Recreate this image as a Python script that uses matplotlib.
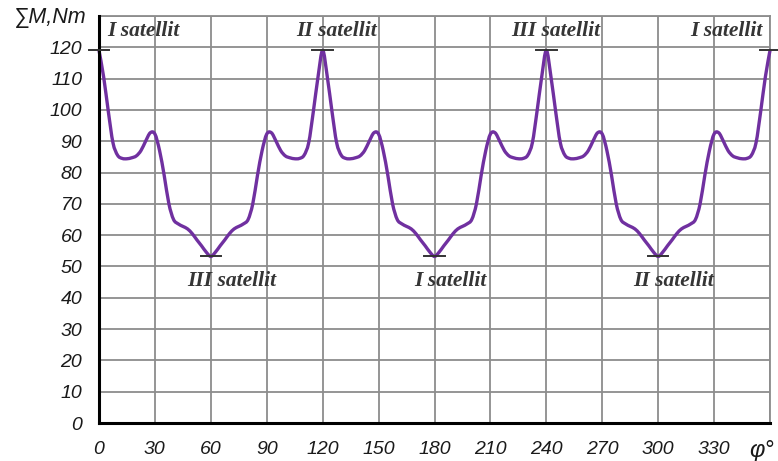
import matplotlib
matplotlib.use("Agg")
import matplotlib.pyplot as plt
from matplotlib.path import Path
from matplotlib.patches import PathPatch
import numpy as np

# ---- data ----
angle_step = 2.5
torque = [
    119, 110.5, 99.5, 89.5, 85.5, 84.5, 84.4, 84.7, 85.3, 87, 90, 92.7, 92.3,
    87, 79, 70, 65, 63.6, 62.8, 62, 60.5, 58.5, 56.6, 54.6, 53.2,
    54.6, 56.6, 58.5, 60.5, 62, 62.8, 63.6, 65, 70, 79, 87,
    92.3, 92.7, 90, 87, 85.3, 84.7, 84.4, 84.5, 85.5, 89.5, 99.5, 110.5,
    119, 110.5, 99.5, 89.5, 85.5, 84.5, 84.4, 84.7, 85.3, 87, 90, 92.7, 92.3,
    87, 79, 70, 65, 63.6, 62.8, 62, 60.5, 58.5, 56.6, 54.6, 53.2,
    54.6, 56.6, 58.5, 60.5, 62, 62.8, 63.6, 65, 70, 79, 87,
    92.3, 92.7, 90, 87, 85.3, 84.7, 84.4, 84.5, 85.5, 89.5, 99.5, 110.5,
    119, 110.5, 99.5, 89.5, 85.5, 84.5, 84.4, 84.7, 85.3, 87, 90, 92.7, 92.3,
    87, 79, 70, 65, 63.6, 62.8, 62, 60.5, 58.5, 56.6, 54.6, 53.2,
    54.6, 56.6, 58.5, 60.5, 62, 62.8, 63.6, 65, 70, 79, 87,
    92.3, 92.7, 90, 87, 85.3, 84.7, 84.4, 84.5, 85.5, 89.5, 99.5, 110.5,
    119,
]
angles = np.arange(len(torque)) * angle_step

max_angles = [0, 120, 240, 360]
max_values = [119, 119, 119, 119]
min_angles = [60, 180, 300]
min_values = [53.2, 53.2, 53.2]

top_labels = ["I satellit", "II satellit", "III satellit", "I satellit"]
bottom_labels = ["III satellit", "I satellit", "II satellit"]

x_ticks = list(range(0, 331, 30))
y_ticks = list(range(0, 121, 10))


def smooth_path(xs, ys, tension=1 / 6):
    """Smoothed line through the points (like a spreadsheet 'smoothed line')."""
    pts = np.column_stack([xs, ys]).astype(float)
    n = len(pts)
    verts = [pts[0]]
    codes = [Path.MOVETO]
    for i in range(n - 1):
        p0 = pts[i - 1] if i > 0 else pts[i]
        p1 = pts[i]
        p2 = pts[i + 1]
        p3 = pts[i + 2] if i + 2 < n else pts[i + 1]
        c1 = p1 + (p2 - p0) * tension
        c2 = p2 - (p3 - p1) * tension
        verts += [c1, c2, p2]
        codes += [Path.CURVE4] * 3
    return Path(verts, codes)


# ---- figure ----
fig = plt.figure(figsize=(7.78, 4.61), dpi=100)
ax = fig.add_axes([99 / 778, 1 - 423 / 461, (770 - 99) / 778, (423 - 16) / 461])

ax.set_xlim(0, 360)
ax.set_ylim(0, 130)

grid_color = "#8c8c8c"
ax.set_xticks(x_ticks + [360])
ax.set_yticks(y_ticks + [130])
ax.grid(True, color=grid_color, linewidth=1.3, zorder=1)
ax.tick_params(length=0)

for side in ["top", "right"]:
    ax.spines[side].set_color(grid_color)
    ax.spines[side].set_linewidth(1.3)
for side in ["left", "bottom"]:
    ax.spines[side].set_color("black")
    ax.spines[side].set_linewidth(2.2)
    ax.spines[side].set_zorder(5)

tick_font = dict(family="Liberation Sans", style="italic", size=14, color="#1a1a1a")
ax.set_xticklabels([str(v) for v in x_ticks] + [""], **tick_font)
ax.set_yticklabels([str(v) for v in y_ticks] + [""], **tick_font)
ax.tick_params(axis="x", pad=13)
ax.tick_params(axis="y", pad=12)

curve = PathPatch(smooth_path(angles, torque), facecolor="none",
                  edgecolor="#7030a0", linewidth=2.4, zorder=4,
                  joinstyle="round", capstyle="round", clip_on=False)
ax.add_patch(curve)

# short horizontal markers at maxima and minima
for xv, yv in zip(max_angles + min_angles, max_values + min_values):
    ax.plot([xv - 5.5, xv + 5.5], [yv, yv], color="#333333", linewidth=1.4,
            zorder=6, clip_on=False)

ann_font = dict(family="Liberation Serif", style="italic", weight="bold",
                size=15.5, color="#353535", ha="center", va="center", zorder=7)
top_x = [23.6, 127.4, 245, 336.4]
for lbl, xv in zip(top_labels, top_x):
    ax.text(xv, 125.2, lbl, **ann_font)
bottom_x = [71.2, 188.4, 308.4]
for lbl, xv in zip(bottom_labels, bottom_x):
    ax.text(xv, 45.2, lbl, **ann_font)

fig.text(87 / 778, 1 - 18 / 461, "∑M,Nm", ha="right", va="center",
         family="Liberation Sans", style="italic", size=15.5, color="#1a1a1a")
fig.text(749 / 778, 1 - 450 / 461, "φ°", ha="left", va="center",
         family="Liberation Sans", style="italic", size=17, color="#1a1a1a")

fig.savefig("out.png", dpi=100)
